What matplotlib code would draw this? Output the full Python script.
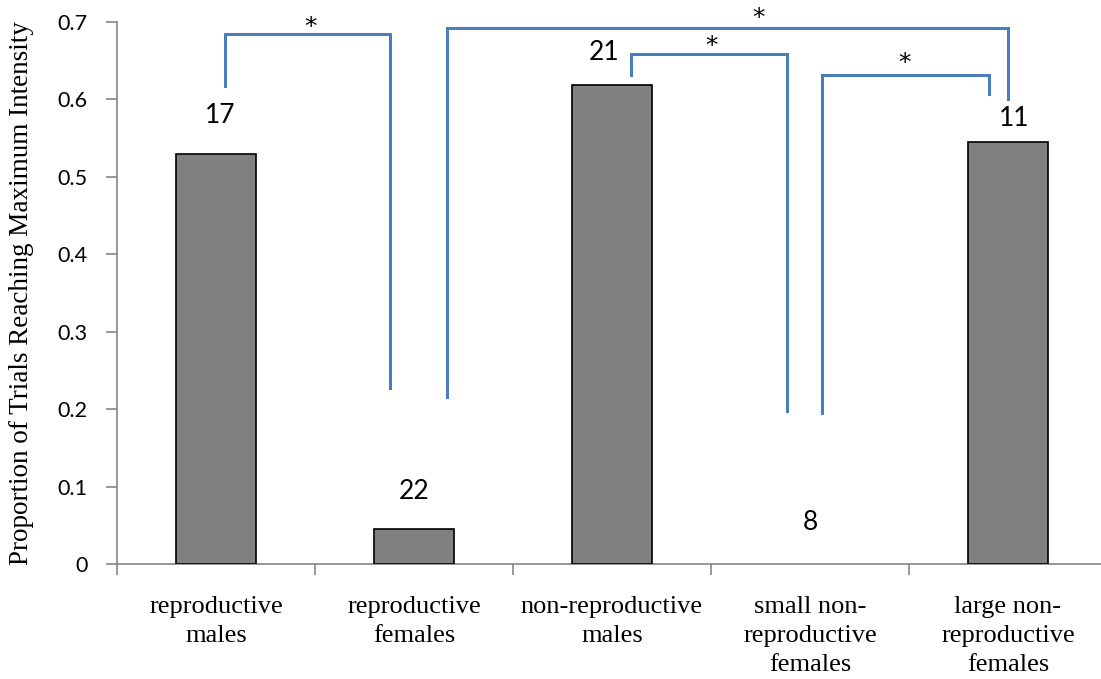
import matplotlib
matplotlib.use('Agg')
import matplotlib.pyplot as plt

# data
categories = ['reproductive\nmales', 'reproductive\nfemales', 'non-reproductive\nmales',
              'small non-\nreproductive\nfemales', 'large non-\nreproductive\nfemales']
proportions = [0.529, 0.045, 0.619, 0.0, 0.545]
n_trials = [17, 22, 21, 8, 11]
yticks = [0, 0.1, 0.2, 0.3, 0.4, 0.5, 0.6, 0.7]
ytick_labels = ['0', '0.1', '0.2', '0.3', '0.4', '0.5', '0.6', '0.7']

# hand-placed label offsets above each bar (as in the original)
label_dx = [0.02, 0.0, -0.04, 0.0, 0.03]
label_dy = [0.050, 0.048, 0.042, 0.053, 0.031]

# significance brackets: (x_left, x_right, y_top, y_left_end, y_right_end, star_x, star_y)
brackets = [
    (0.044, 0.879, 0.6845, 0.617, 0.227, 0.475, 0.703),
    (1.167, 3.998, 0.6927, 0.216, 0.601, 2.742, 0.7155),
    (2.096, 2.884, 0.6587, 0.632, 0.198, 2.500, 0.679),
    (3.059, 3.903, 0.6316, 0.195, 0.607, 3.475, 0.657),
]

SANS = 'Lato'
SERIF = 'Liberation Serif'
GREY_AX = '#868686'
BLUE = '#4a7ebb'

fig = plt.figure(figsize=(11.01, 6.79), dpi=100)
ax = fig.add_axes([117 / 1101, 115 / 679, 984 / 1101, 542 / 679])

x = list(range(len(categories)))
bars = ax.bar(x, proportions, width=0.4, color='#808080', edgecolor='black', linewidth=1.2, zorder=3)
for b, v in zip(bars, proportions):
    if v == 0:
        b.set_linewidth(0)

for i, (v, n) in enumerate(zip(proportions, n_trials)):
    ax.text(i + label_dx[i], v + label_dy[i], str(n), ha='center', va='center', fontsize=19,
            family=SANS, color='black')

for xl, xr, yt, yl, yr, sx, sy in brackets:
    ax.plot([xl, xl, xr, xr], [yl, yt, yt, yr], color=BLUE, lw=2.2,
            solid_joinstyle='miter', clip_on=False, zorder=4)
    ax.text(sx, sy - 0.019, '*', ha='center', va='baseline', fontsize=18, family='DejaVu Sans',
            color='black', clip_on=False)

ax.set_xlim(-0.5, -0.5 + 984 / 198)
ax.set_ylim(0, 0.7)
ax.set_yticks(yticks)
ax.set_yticklabels(ytick_labels, family=SANS, fontsize=15.5)
ax.set_xticks(x)
ax.set_xticklabels(categories, family=SERIF, fontsize=19, linespacing=1.42)
ax.set_xticks([-0.5, 0.5, 1.5, 2.5, 3.5], minor=True)
ax.tick_params(axis='x', which='major', length=0, pad=23)
ax.tick_params(axis='x', which='minor', length=8, width=1.2, color=GREY_AX, direction='out')
ax.tick_params(axis='y', length=8, width=1.2, color=GREY_AX, direction='out', pad=13)

for s in ['top', 'right']:
    ax.spines[s].set_visible(False)
for s in ['left', 'bottom']:
    ax.spines[s].set_color(GREY_AX)
    ax.spines[s].set_linewidth(1.2)

ax.set_ylabel('Proportion of Trials Reaching Maximum Intensity', family=SERIF, fontsize=19.5)
ax.yaxis.set_label_coords(-83 / 984, 0.5)

fig.savefig('out.png', dpi=100, facecolor='white')
